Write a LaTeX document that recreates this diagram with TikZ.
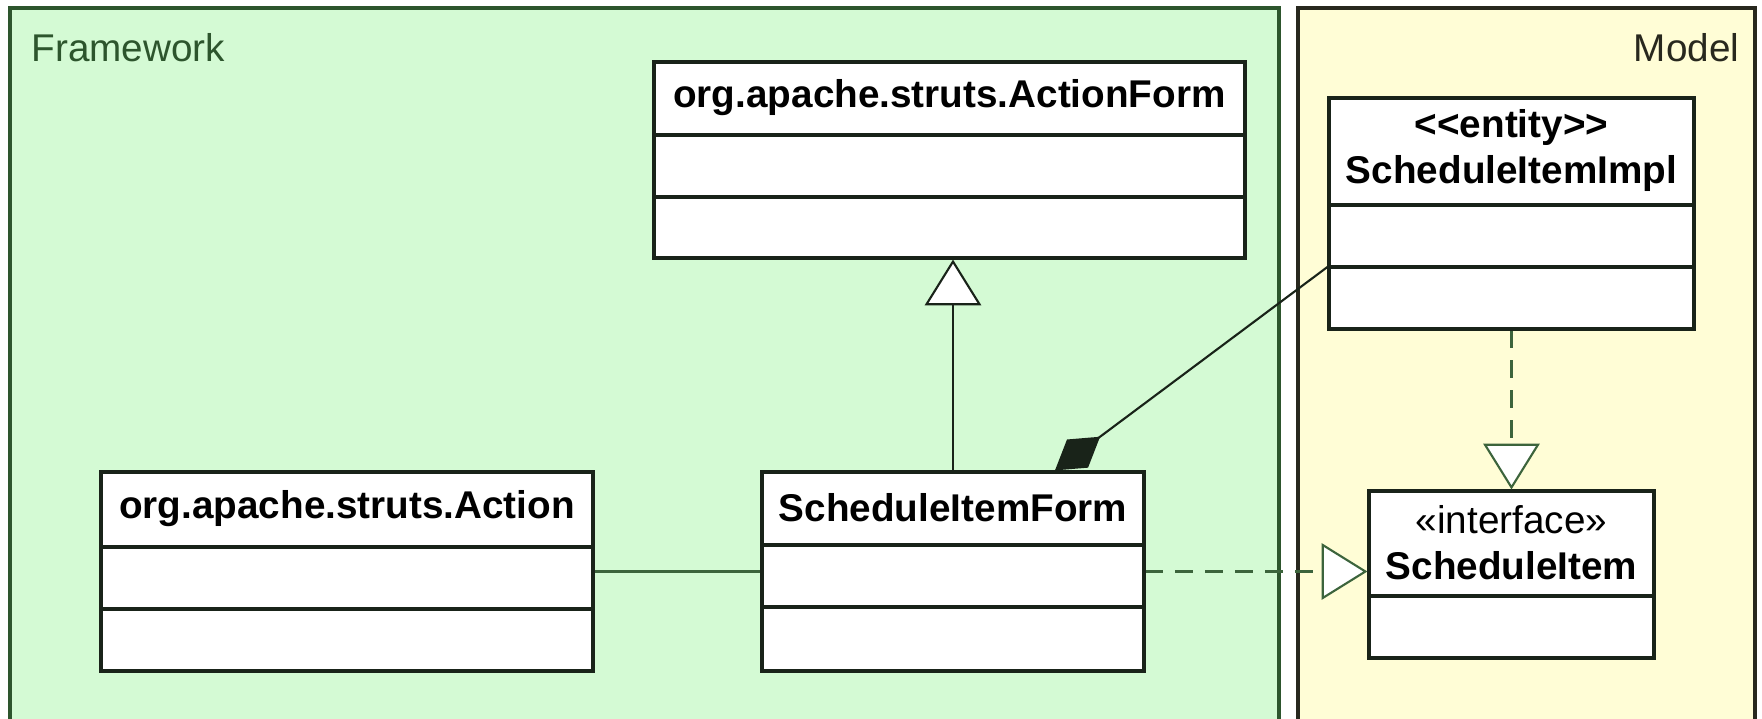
\documentclass[tikz,border=0pt]{standalone}
\usepackage{fontspec}
\setmainfont{Liberation Sans}
\usetikzlibrary{positioning,fit,calc,arrows.meta}
\definecolor{fwColor}{RGB}{212,250,212}
\definecolor{fwLine}{RGB}{45,85,45}
\definecolor{mdColor}{RGB}{255,253,214}
\definecolor{mdLine}{RGB}{40,40,30}
\definecolor{boxLine}{RGB}{25,35,25}
\definecolor{linkColor}{RGB}{60,100,60}

% class box: name, top left, bottom right, header y, divider ys, title
\newcommand{\umlclass}[6]{%
  \node [umlbox, fit={#2 #3}] (#1) {};
  \node [umltitle] (#1-title) at ($(#1.north)!.5!(#1.north |- 0,#4)$) {#6};
  \foreach \yy in {#5} \draw [umlline] (#1.west |- 0,\yy) -- (#1.east |- 0,\yy);
}

\begin{document}
\begin{tikzpicture}[x=0.01cm,y=-0.01cm,font=\fontsize{11}{13}\selectfont]
  	\tikzstyle{panel} = [draw,line width=1pt,inner sep=0pt]
  	\tikzstyle{umlbox} = [rectangle,draw=boxLine,fill=white,line width=0.9pt,inner sep=0pt]
  	\tikzstyle{umltitle} = [align=center,inner sep=0pt,font=\fontsize{11}{13}\selectfont\bfseries]
  	\tikzstyle{umlline} = [draw=boxLine,line width=0.9pt]
  	\tikzstyle{assoc} = [draw=linkColor,line width=1pt]
  	\tikzstyle{gen} = [draw=boxLine,line width=0.6pt,-{Triangle[length=13pt,width=16pt,fill=white]}]
  	\tikzstyle{real} = [gen,draw=linkColor,dash pattern=on 5pt off 3.5pt]
  	\tikzstyle{comp} = [draw=boxLine,line width=0.6pt,-{Diamond[length=16pt,width=10pt]}]

	  \useasboundingbox (0,0) rectangle (1762,719);

	  \node [panel, draw=fwLine, fill=fwColor, fit={(10,8) (1279,740)}] (framework) {};
	  \node [panel, draw=mdLine, fill=mdColor, fit={(1298,8) (1755,740)}] (model) {};
	  \node [anchor=west, inner sep=0pt, text=fwLine] (fwlabel) at (31,48) {Framework};
	  \node [anchor=east, inner sep=0pt, text=mdLine] (mdlabel) at (1740,48) {Model};

	  \umlclass{actionform}{(654,62)}{(1245,258)}{135}{135,197}{org.apache.struts.ActionForm}
	  \umlclass{impl}{(1329,98)}{(1694,329)}{205}{205,267}{<\kern0pt<entity>\kern0pt>\\ScheduleItemImpl}
	  \umlclass{action}{(101,472)}{(593,671)}{547}{547,609}{org.apache.struts.Action}
	  \umlclass{form}{(762,472)}{(1144,671)}{545}{545,607}{ScheduleItemForm}
	  \umlclass{item}{(1369,491)}{(1654,658)}{596}{596}{{\mdseries «interface»}\\ScheduleItem}

	  \coordinate (impl-attr) at (impl.west |- 0,267);

		\draw [assoc] (action.east) -- (form.west);
		\draw [gen] (form.north) -- (form.north |- actionform.south);
		\draw [real] (form.east) -- (form.east -| item.west);
		\draw [real] (impl.south) -- (item.north);
		\draw [comp] (impl-attr) -- ([xshift=29pt]form.north);
  \end{tikzpicture}
\end{document}
